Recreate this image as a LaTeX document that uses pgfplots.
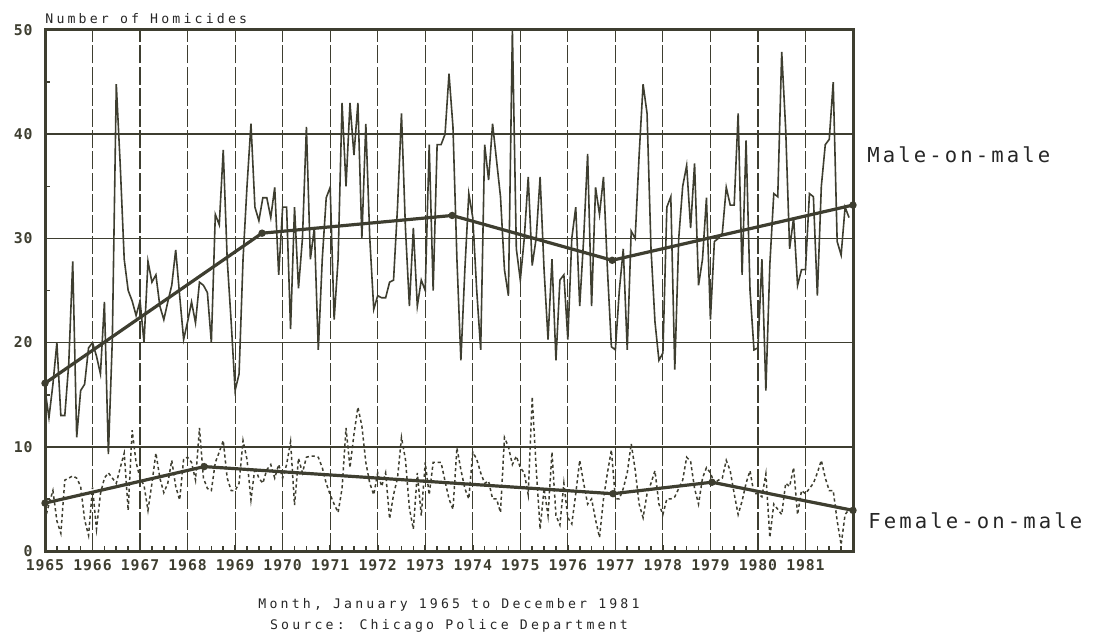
\documentclass[border=0pt]{standalone}
\usepackage{fontspec}
\usepackage{pgfplots}
\usepackage{pgfplotstable}
\pgfplotsset{compat=1.18}
\newfontfamily\tickfont[LetterSpace=6]{DejaVu Sans Mono}
\newfontfamily\captfont[LetterSpace=24]{DejaVu Sans Mono}
\newfontfamily\serfont[LetterSpace=15]{DejaVu Sans Mono}
\definecolor{ink}{RGB}{62,62,48}

\pgfplotstableread{
v
15.5
12.8
16
20
13
13
18
27.8
10.9
15.4
16
19.5
20
18.7
17
23.9
9.3
20.3
44.8
37
28
25
24
22.6
24
20
27.8
25.8
26.5
23.5
22.2
23.9
25.5
28.9
24.5
20.3
22
23.9
21.9
25.8
25.5
24.8
20
32.3
31.3
38.5
28
22
15.4
17
28
35
41
33
31.7
33.9
33.9
32
34.9
26.5
33
33
21.3
33
25.2
30
40.7
28
31
19.3
28
33.9
34.9
22.2
28
43
35
43
38
43
30
41
30
23.2
24.5
24.3
24.3
25.8
26
33
42
31
23.5
31
23.5
26
25
39
25
39
39
40
45.8
40.7
28
18.3
27
34.3
32
25
19.3
39
35.6
41
37.5
34
27
24.5
50
29
26
30
35.9
27.4
30
35.9
27
20.3
28
18.3
26
26.5
20.3
30
33
23.5
30
38.1
23.5
34.9
32.3
35.9
27
19.6
19.3
25
29
19.3
30.7
30
38
44.8
42
29
22
18.3
19
33
34
17.4
30
35
37
31
37.2
25.5
28
33.9
22.2
29.7
30
30.5
34.9
33.2
33.2
42
26.5
39.4
25
19.3
19.5
28
15.4
27.5
34.3
34
47.9
40.5
29
32
25.5
27
27
34.3
34
24.5
35
39
39.5
45
29.7
28.4
33
32
}\male

\pgfplotstableread{
v
3.0
4.5
5.8
2.9
1.7
6.8
7.0
7.2
7.0
6.2
3.0
1.5
6.1
2.1
5.5
7.0
7.5
7.0
6.5
8.0
9.4
3.9
11.6
8.5
7.0
6.3
3.9
6.5
9.4
7.0
5.6
6.5
8.7
6.2
4.9
8.8
9.0
8.5
6.8
11.8
7.0
6.0
5.8
8.5
9.5
10.6
7.0
5.8
5.8
6.5
10.6
8.8
4.9
8.0
7.0
6.5
7.8
8.3
7.0
8.3
7.0
8.3
10.5
4.4
8.9
7.5
9.0
9.1
9.1
9.0
8.0
6.5
5.4
4.5
3.7
6.0
11.8
8.0
11.2
13.8
12.0
8.5
6.5
5.4
7.5
6.2
7.5
3.1
5.4
7.0
10.9
8.8
4.1
2.1
7.5
3.4
8.5
5.4
8.5
8.5
8.5
6.7
5.0
4.0
9.9
7.8
6.0
5.0
9.5
8.8
7.5
6.5
6.7
5.0
5.0
3.7
10.9
10.0
8.3
9.1
8.0
7.5
5.4
14.8
8.0
2.1
6.0
3.4
9.5
3.4
2.5
6.5
3.2
2.6
5.5
8.7
6.5
4.5
5.0
3.0
1.3
5.0
7.5
9.7
5.0
5.0
6.0
7.5
10.3
7.8
4.5
3.2
5.5
6.5
7.7
4.5
3.5
5.0
5.0
5.2
6.0
6.8
9.0
8.6
6.0
4.5
7.0
8.0
7.5
6.5
6.8
7.0
8.7
7.7
5.5
3.5
4.8
6.5
7.7
5.5
5.5
5.2
7.4
1.3
4.5
4.0
3.5
6.5
6.2
8.0
3.5
5.8
5.5
6.0
6.5
7.5
8.7
7.0
5.8
5.8
2.9
0.6
3.5
4.0
}\female

\begin{document}
\begin{tikzpicture}[x=1pt,y=1pt]
\useasboundingbox (0,0) rectangle (548,316.5);
\begin{axis}[
  at={(22.5pt,41pt)}, anchor=south west,
  scale only axis, width=404pt, height=260.5pt,
  xmin=0, xmax=204, ymin=0, ymax=50,
  axis line style={ink, line width=1.5pt},
  xtick={0,12,...,192},
  xticklabels={1965,1966,1967,1968,1969,1970,1971,1972,1973,1974,1975,1976,1977,1978,1979,1980,1981},
  minor xtick={3,6,...,201},
  ytick={0,10,...,50},
  minor ytick={5,15,...,45},
  xtick pos=left, ytick pos=left,
  tick align=inside,
  major tick length=3pt,
  minor tick length=2.5pt,
  tick style={ink, line width=0.8pt},
  ymajorgrids,
  major grid style={ink, line width=0.8pt},
  /pgf/number format/assume math mode=true,
  xticklabel style={font={\tickfont\bfseries\fontsize{7.4}{8}\selectfont}, text=ink, inner sep=0pt, anchor=north, yshift=-4pt},
  yticklabel style={font={\tickfont\bfseries\fontsize{7.4}{8}\selectfont}, text=ink, inner sep=0pt, anchor=east, xshift=-6pt},
  clip=false,
]
\pgfplotsinvokeforeach{12,24,...,192}{
  \draw[ink, line width=0.6pt, dash pattern=on 9pt off 1.6pt] (axis cs:#1,0) -- (axis cs:#1,50);
}
\addplot[ink, line width=0.75pt, dash pattern=on 1.6pt off 1.4pt] table[x expr=\coordindex, y=v] {\female};
\addplot[ink, line width=0.8pt] table[x expr=\coordindex, y=v] {\male};
\addplot[ink, line width=1.6pt, mark=*, mark size=1pt] coordinates {(0,16.1) (54.8,30.5) (102.8,32.2) (143.2,27.9) (204,33.2)};
\addplot[ink, line width=1.6pt, mark=*, mark size=1pt] coordinates {(0,4.6) (40.2,8.1) (143.4,5.5) (168.4,6.6) (204,3.9)};
\end{axis}
\node[anchor=base west, inner sep=0pt, text=black!85, font={\captfont\fontsize{6.6}{7}\selectfont}] at (22.5,304.5) {Number of Homicides};
\node[anchor=base, inner sep=0pt, text=black!85, font={\captfont\fontsize{6.6}{7}\selectfont}] at (224.5,12.5) {Month, January 1965 to December 1981};
\node[anchor=base, inner sep=0pt, text=black!85, font={\captfont\fontsize{6.6}{7}\selectfont}] at (224.5,1.8) {Source: Chicago Police Department};
\node[anchor=base west, inner sep=0pt, text=black!85, font={\serfont\fontsize{10.3}{12}\selectfont}] at (433.5,235) {Male-on-male};
\node[anchor=base west, inner sep=0pt, text=black!85, font={\serfont\fontsize{10.3}{12}\selectfont}] at (434,52.5) {Female-on-male};
\end{tikzpicture}
\end{document}
